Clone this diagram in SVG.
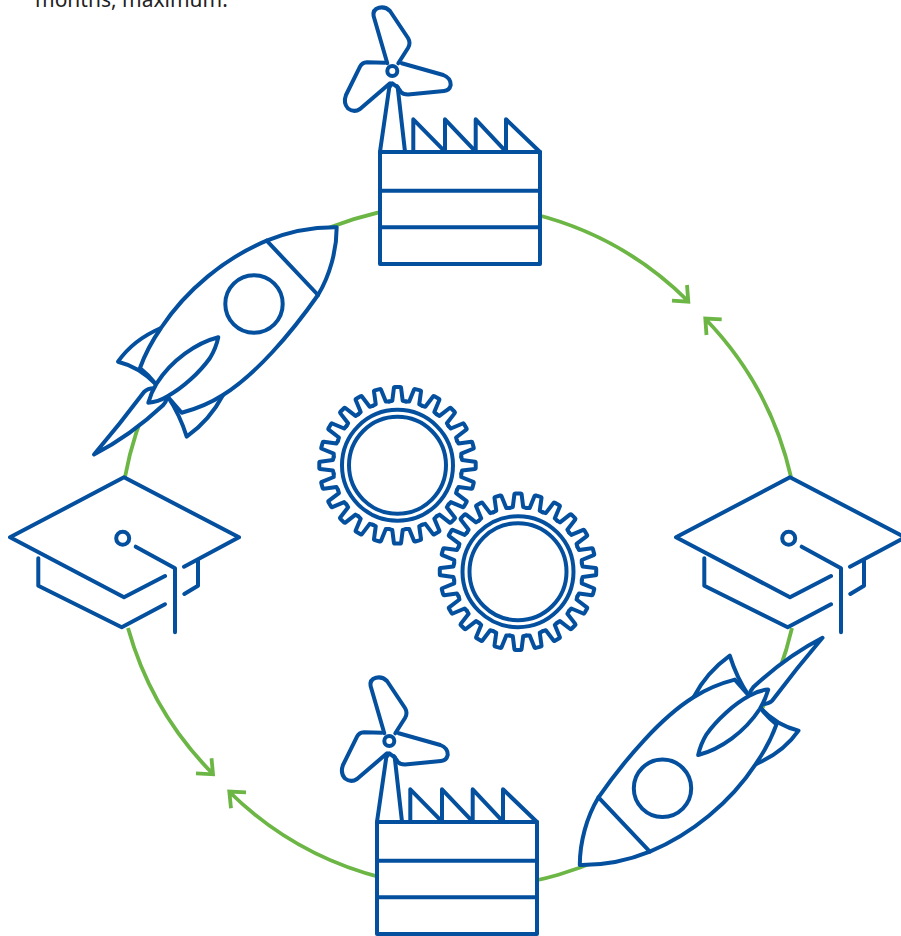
<svg xmlns="http://www.w3.org/2000/svg" xmlns:xlink="http://www.w3.org/1999/xlink" width="901" height="936" viewBox="0 0 901 936">
<style>
.l{fill:none;stroke:#04509e;stroke-width:4;stroke-linecap:round;stroke-linejoin:round}
.f{fill:#fff;stroke:#04509e;stroke-width:4;stroke-linecap:round;stroke-linejoin:round}
.c{fill:none;stroke:#6cb645;stroke-width:3.8;stroke-linecap:butt;stroke-linejoin:miter}
.t{font-family:"Noto Sans","Liberation Sans",sans-serif;font-size:21px;fill:#222}
</style>
<defs>
<path id="tooth" class="l" d="M-8.35,-63.8L-5.2,-64.6L-3.6,-77.4Q-3.5,-78.2 -2.5,-78.2L2.5,-78.2Q3.5,-78.2 3.6,-77.4L5.2,-64.6L8.35,-63.8"/>
<g id="q"><use xlink:href="#tooth"/><use xlink:href="#tooth" transform="rotate(15)"/><use xlink:href="#tooth" transform="rotate(30)"/><use xlink:href="#tooth" transform="rotate(45)"/><use xlink:href="#tooth" transform="rotate(60)"/><use xlink:href="#tooth" transform="rotate(75)"/></g>
<g id="gear"><use xlink:href="#q"/><use xlink:href="#q" transform="rotate(90)"/><use xlink:href="#q" transform="rotate(180)"/><use xlink:href="#q" transform="rotate(270)"/><circle class="l" r="55.5"/><circle class="l" r="48.5"/></g>
<g id="rocket">
<path class="f" d="M161,328Q133,340 118,361.7Q140,367 156.7,385L161,328Z"/>
<path class="f" d="M223,395Q210,420 186.7,436.7Q180,415 168,397L223,395Z"/>
<path class="f" d="M336.7,227.3C312,227 288,232 266.7,240.7C225,258 186,290 161,328C152,341 145,354 140,368Q149,375 156.7,385L168,397L181.7,412.7C200,408 212,402 223,395C255,375 290,335 318,295C330,275 336.7,250 336.7,227.3Z"/>
<path class="l" d="M266.7,240.7L318,295"/>
<circle class="l" cx="254" cy="304" r="28.7"/>
<path class="f" d="M155,388.3Q148,388 144,392Q120,424 94,454.5Q130,436 163.3,405Q166,402 167,398Z"/>
<path class="f" d="M218.3,337.3C196,343 172,360 156.7,383.3Q151,393 148.3,402.7Q158,402 166.7,396.7C183,388 200,372 210,358Q216,348 218.3,337.3Z"/>
</g>
<g id="cap">
<path class="f" d="M184,566.7L239,537.3L124,477.3L10,537.3L124,597.3L165,576"/>
<path class="l" d="M38.3,558.3V585.7L121.7,627.3L165,604.3M198,560.7V585.7L184.3,594M135.7,546.7L175,568.3V632.3"/>
<circle class="l" cx="122.7" cy="538.3" r="6.5"/>
</g>
<g id="factory">
<rect class="f" x="380" y="152" width="160" height="112"/>
<path class="l" d="M380,190.7H540M380,227.3H540M413.3,152V119.3L445,151.7V119.3L475.7,151.7V119.3L506,151.7V119.3L540,152"/>
<path class="l" d="M380,151.7L389.3,87.3L392.3,83.3L397.7,87.3L405,151.7"/>
<circle class="l" cx="392.3" cy="71" r="5"/>
<path class="l" d="M387.3,63.3L373.6,16Q372.5,9.5 379,7.7Q385.5,6.3 390,11L408,38Q411,43 408,48L398.3,63.3"/>
<path class="l" d="M401.7,63.3L443.3,75Q451,78 450.7,85Q449.5,90.5 444,91L408,94.5Q403,94.5 401,92L396.7,86"/>
<path class="l" d="M385,62.7L367,62.3Q362,62.7 360,66.7L346,95Q343,103 348,108.5Q354,113 360,109L390,83.3"/>
</g>
</defs>
<text class="t" x="35" y="7">months, maximum.</text>
<g id="connectors">
<path class="c" d="M125,477A333.5,333.5 0 0 1 688.5,301.5M672,300.7L688.3,301.7L687,285"/>
<path class="c" d="M791,477A335,335 0 0 0 705,318.5M721.7,319.3L705.3,318.5L706.5,335"/>
<path class="c" d="M792,628A336,336 0 0 1 229,791.5M246,792.3L229.3,791.5L231,808.3"/>
<path class="c" d="M128,628A336,336 0 0 0 213,774M196,773.3L213,774.3L211.5,758.3"/>
</g>
<g id="factory-top"><use xlink:href="#factory"/></g>
<g id="factory-bottom"><use xlink:href="#factory" transform="translate(-3,670)"/></g>
<g id="rocket-left"><use xlink:href="#rocket"/></g>
<g id="rocket-right"><use xlink:href="#rocket" transform="rotate(180 458.25 546.15)"/></g>
<g id="cap-left"><use xlink:href="#cap"/></g>
<g id="cap-right"><use xlink:href="#cap" transform="translate(666,0)"/></g>
<g id="gear-1"><use xlink:href="#gear" transform="translate(397.5,465.3)"/></g>
<g id="gear-2"><use xlink:href="#gear" transform="translate(518,571.7)"/></g>
</svg>
